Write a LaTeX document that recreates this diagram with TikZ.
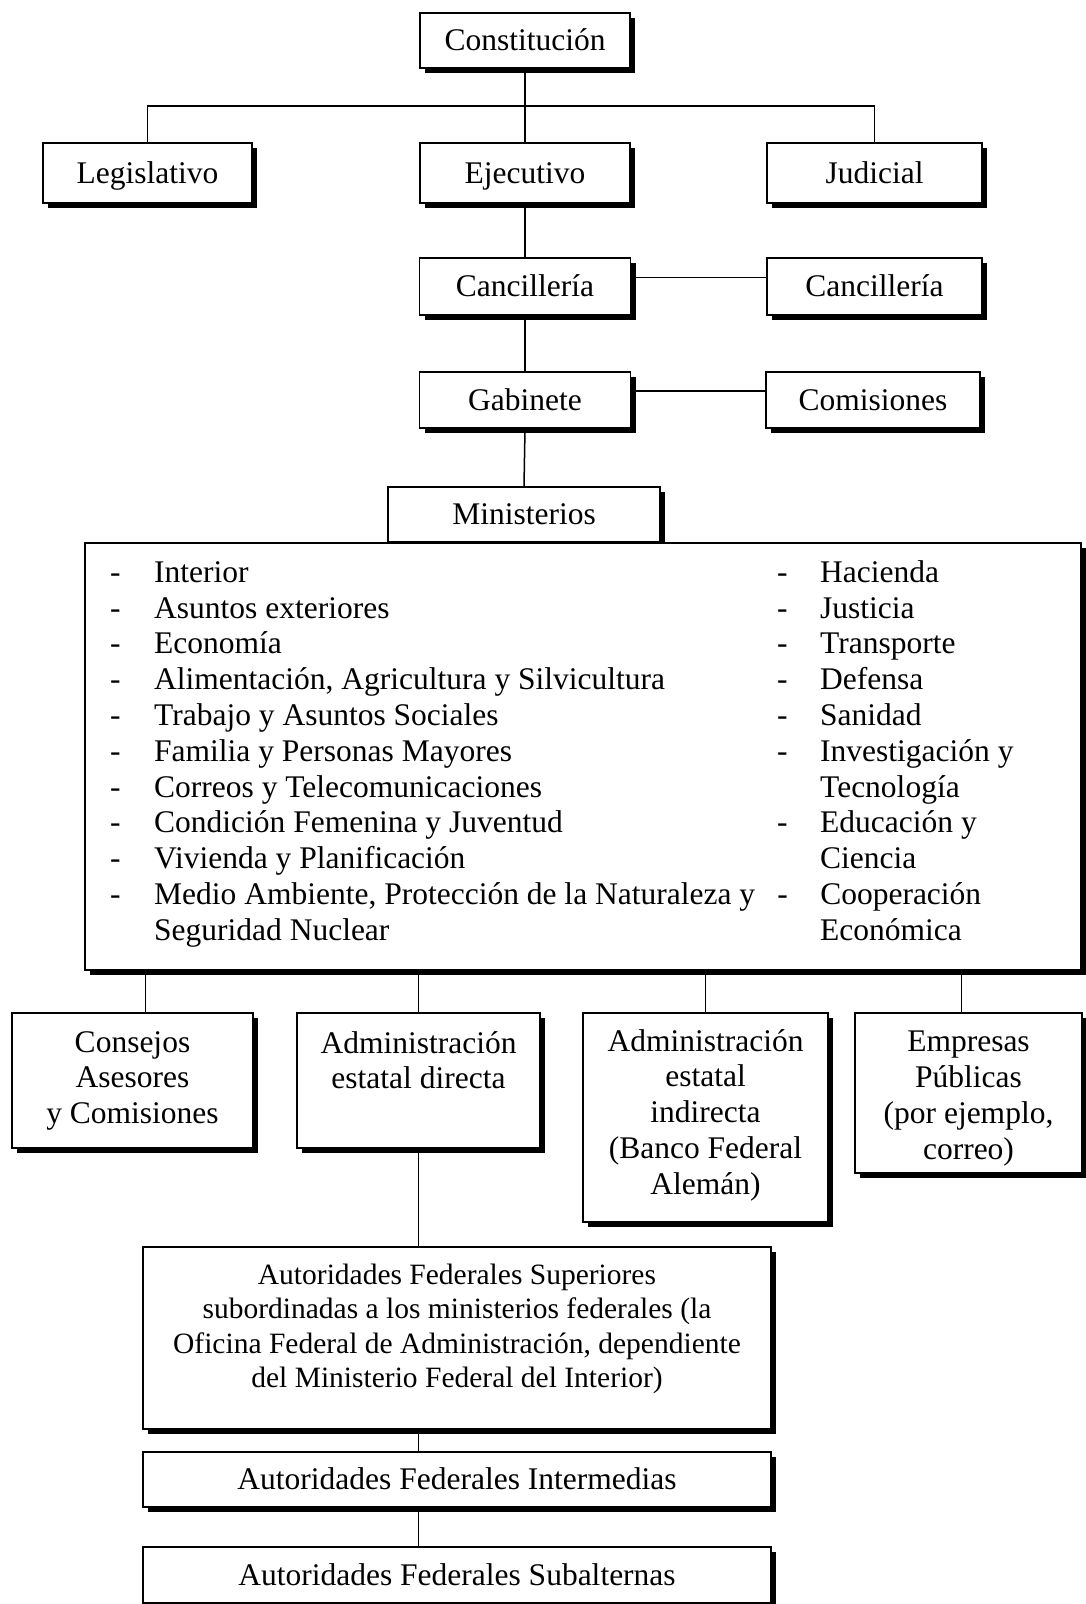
\documentclass[tikz,border=0pt]{standalone}
\usepackage{fontspec}
\setmainfont{Liberation Serif}
\usetikzlibrary{shadows}
\newcommand{\orgfont}{\fontsize{31.5}{35.8}\selectfont}
\newcommand{\supfont}{\fontsize{29.5}{34.3}\selectfont}
\tikzset{
  boxstyle/.style={draw, line width=1.3pt, fill=white, inner sep=0pt, align=center,
    drop shadow={shadow xshift=5pt, shadow yshift=-5pt, fill=black, opacity=1}},
  onestyle/.style={boxstyle, text height=23pt, text depth=3pt},
  textstyle/.style={inner sep=0pt, align=center},
  linkstyle/.style={line width=1.5pt}
}
\begin{document}
\begin{tikzpicture}[x=1pt, y=-1pt, font=\orgfont]
\useasboundingbox (0,0) rectangle (1086,1604);

% poderes
\node[onestyle, minimum width=210pt, minimum height=55pt] (const) at (525,40.5) {Constitución};
\node[onestyle, minimum width=209pt, minimum height=60pt] (legis) at (147.5,173) {Legislativo};
\node[onestyle, minimum width=210pt, minimum height=60pt] (ejec) at (525,173) {Ejecutivo};
\node[onestyle, minimum width=215pt, minimum height=60pt] (judic) at (874.5,173) {Judicial};

\node[onestyle, minimum width=211pt, minimum height=57pt] (canc) at (525,286.5) {Cancillería};
\node[onestyle, minimum width=215pt, minimum height=57pt] (cancb) at (874.5,286.5) {Cancillería};
\node[onestyle, minimum width=211pt, minimum height=56pt] (gab) at (525,400) {Gabinete};
\node[onestyle, minimum width=214pt, minimum height=56pt] (comis) at (873,400) {Comisiones};

% ministerios
\node[onestyle, minimum width=272pt, minimum height=55pt] (minis) at (524,514.5) {Ministerios};
\node[boxstyle, minimum width=996pt, minimum height=427pt] (lista) at (583,756.5) {};
\node[inner sep=0pt, anchor=north west] (listatxt) at (110,557) {%
\begin{tabular}{@{}p{44pt}@{}p{623pt}@{}p{43pt}@{}l@{}}
- & Interior & - & Hacienda\\
- & Asuntos exteriores & - & Justicia\\
- & Economía & - & Transporte\\
- & Alimentación, Agricultura y Silvicultura & - & Defensa\\
- & Trabajo y Asuntos Sociales & - & Sanidad\\
- & Familia y Personas Mayores & - & Investigación y\\
- & Correos y Telecomunicaciones & & Tecnología\\
- & Condición Femenina y Juventud & - & Educación y\\
- & Vivienda y Planificación & & Ciencia\\
- & Medio Ambiente, Protección de la Naturaleza y & - & Cooperación\\
  & Seguridad Nuclear & & Económica\\
\end{tabular}};

% administracion
\node[boxstyle, minimum width=241pt, minimum height=135pt] (consej) at (132.5,1080.5) {};
\node[textstyle, anchor=north] (consejtxt) at (132.5,1031) {Consejos\\Asesores\\y Comisiones};
\node[boxstyle, minimum width=243pt, minimum height=135pt] (admdir) at (418.5,1080.5) {};
\node[textstyle, anchor=north] (admdirtxt) at (418.5,1031) {Administración\\estatal directa};
\node[boxstyle, minimum width=245pt, minimum height=209pt] (admind) at (705.5,1117.5) {};
\node[textstyle, anchor=north] (admindtxt) at (705.5,1029) {Administración\\estatal\\indirecta\\(Banco Federal\\Alemán)};
\node[boxstyle, minimum width=227pt, minimum height=160pt] (empr) at (968.5,1093) {};
\node[textstyle, anchor=north] (emprtxt) at (968.5,1031) {Empresas\\Públicas\\(por ejemplo,\\correo)};

% autoridades
\node[boxstyle, minimum width=628pt, minimum height=182pt] (sup) at (457,1338) {};
\node[textstyle, anchor=north, font=\supfont] (suptxt) at (457,1264) {Autoridades Federales Superiores\\subordinadas a los ministerios federales (la\\Oficina Federal de Administración, dependiente\\del Ministerio Federal del Interior)};
\node[onestyle, minimum width=628pt, minimum height=55pt] (inter) at (457,1479.5) {Autoridades Federales Intermedias};
\node[onestyle, minimum width=628pt, minimum height=56pt] (subal) at (457,1575) {Autoridades Federales Subalternas};

\coordinate (ramal) at (525,106);

\begin{scope}[every path/.style={linkstyle}]
    \draw (legis.north) |- (ramal) -| (judic.north);
    \draw (const.south) -- (ejec.north);
    \draw (ejec.south) -- (canc.north);
    \draw ([yshift=9pt]canc.east) -- ([yshift=9pt]canc.east -| cancb.west);
    \draw (canc.south) -- (gab.north);
    \draw ([yshift=9pt]gab.east) -- ([yshift=9pt]gab.east -| comis.west);
    \draw (gab.south) -- (minis.north);

    \draw ([xshift=13pt]lista.south -| consej.north) -- ([xshift=13pt]consej.north);
    \draw (lista.south -| admdir.north) -- (admdir.north);
    \draw (lista.south -| admind.north) -- (admind.north);
    \draw ([xshift=-7pt]lista.south -| empr.north) -- ([xshift=-7pt]empr.north);

    \draw (admdir.south) -- (admdir.south |- sup.north);
    \draw (sup.south -| admdir.south) -- (inter.north -| admdir.south);
    \draw (inter.south -| admdir.south) -- (subal.north -| admdir.south);
\end{scope}
\end{tikzpicture}
\end{document}
